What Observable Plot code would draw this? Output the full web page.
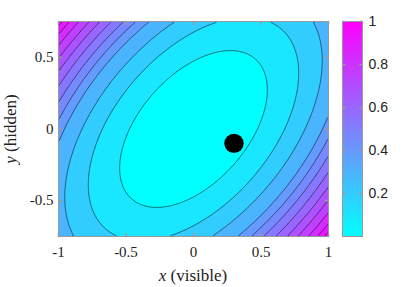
<!DOCTYPE html>
<html><head><meta charset="utf-8">
<script src="https://cdn.jsdelivr.net/npm/d3@7"></script>
<script src="https://cdn.jsdelivr.net/npm/@observablehq/plot@0.6"></script>
<style>
body{margin:0;background:#fff;}
#wrap{position:relative;width:415px;height:287px;overflow:hidden;background:#fff;}
#wrap svg{position:absolute;top:0;left:0;}
</style></head><body><div id="wrap"></div>
<script>
// ---- data ----
const xDomain = [-1, 1];
const yDomain = [-0.75, 0.75];
const xTicks = [-1, -0.5, 0, 0.5, 1];
const yTicks = [-0.5, 0, 0.5];
const quadCoeffs = [1, -1, 1];            // x², xy, y² of the plotted field
const levels = [0.097, 0.197, 0.295, 0.395, 0.46, 0.527, 0.60, 0.675, 0.75, 0.83, 0.905, 0.965];
const markerX = [0.3];
const markerY = [-0.1];
const cbDomain = [0, 1];
const cbTicks = [0.2, 0.4, 0.6, 0.8, 1];
const cbColors = ["#00ffff", "#ff00ff"];   // MATLAB "cool"
const xLabel = ["x", " (visible)"];
const yLabel = ["y", " (hidden)"];

// ---- field ----
const qAt = (x, y) => quadCoeffs[0]*x*x + quadCoeffs[1]*x*y + quadCoeffs[2]*y*y;
const qMax = d3.max(xDomain.flatMap(x => yDomain.map(y => qAt(x, y))));
const field = (x, y) => qAt(x, y) / qMax;

const frameColor = "#9a9a9a";
const textColor = "#222";
const serif = "'Liberation Serif', serif";
const sans = "'Liberation Sans', Arial, sans-serif";
const tickShape = {draw(context, l) { context.moveTo(0, 0); context.lineTo(0, -l); }};
const colorScale = {type: "linear", domain: cbDomain, range: cbColors, interpolate: "rgb"};
const bounds = {x1: xDomain[0], x2: xDomain[1], y1: yDomain[0], y2: yDomain[1]};
const markers = markerX.map((x, i) => ({x, y: markerY[i]}));

const main = Plot.plot({
  width: 415, height: 287,
  marginLeft: 58, marginRight: 87, marginTop: 21, marginBottom: 51,
  x: {domain: xDomain},
  y: {domain: yDomain},
  color: colorScale,
  style: {fontFamily: serif, color: textColor, background: "transparent"},
  marks: [
    Plot.contour({...bounds, value: field, fill: "value", stroke: "none", thresholds: [0, ...levels]}),
    Plot.contour({...bounds, value: field, fill: "none", stroke: "#000", strokeWidth: 0.6, strokeOpacity: 0.85, thresholds: levels}),
    Plot.dot(markers, {x: "x", y: "y", r: 9.7, fill: "#000", stroke: "none"}),
    Plot.frame({stroke: frameColor}),
    Plot.vector(xTicks, {x: d => d, y: () => yDomain[0], rotate: 0, length: 3, anchor: "start", shape: tickShape, stroke: frameColor}),
    Plot.vector(xTicks, {x: d => d, y: () => yDomain[1], rotate: 180, length: 3, anchor: "start", shape: tickShape, stroke: frameColor}),
    Plot.vector(yTicks, {y: d => d, x: () => xDomain[0], rotate: 90, length: 3, anchor: "start", shape: tickShape, stroke: frameColor}),
    Plot.vector(yTicks, {y: d => d, x: () => xDomain[1], rotate: -90, length: 3, anchor: "start", shape: tickShape, stroke: frameColor}),
    Plot.axisX({ticks: xTicks, tickSize: 0, tickPadding: 10, fontSize: 15, label: null, tickFormat: d => String(d).replace("-", "-")}),
    Plot.axisY({ticks: yTicks, tickSize: 0, tickPadding: 5, fontSize: 15, label: null, tickFormat: d => String(d)})
  ]
});

const cb = Plot.plot({
  width: 415, height: 287,
  marginLeft: 342, marginRight: 53, marginTop: 21, marginBottom: 51,
  x: {domain: [0, 1], axis: null},
  y: {domain: cbDomain, axis: null},
  color: colorScale,
  style: {fontFamily: sans, color: textColor, background: "transparent"},
  marks: [
    Plot.raster({x1: 0, x2: 1, y1: cbDomain[0], y2: cbDomain[1], fill: (x, y) => y}),
    Plot.frame({stroke: frameColor}),
    Plot.vector(cbTicks, {y: d => d, x: () => 0, rotate: 90, length: 2.5, anchor: "start", shape: tickShape, stroke: frameColor}),
    Plot.vector(cbTicks, {y: d => d, x: () => 1, rotate: -90, length: 2.5, anchor: "start", shape: tickShape, stroke: frameColor}),
    Plot.axisY({anchor: "right", ticks: cbTicks, tickSize: 0, tickPadding: 6, fontSize: 14, label: null, tickFormat: d => String(d)})
  ]
});

const wrap = document.getElementById("wrap");
wrap.appendChild(main);
wrap.appendChild(cb);

// axis titles with italic variable names
const svg = d3.select(main);
const xt = svg.append("text").attr("x", 193).attr("y", 281).attr("text-anchor", "middle")
  .attr("font-family", serif).attr("font-size", 17).attr("fill", textColor);
xt.append("tspan").attr("font-style", "italic").text(xLabel[0]);
xt.append("tspan").text(xLabel[1]);
const yt = svg.append("text").attr("transform", "translate(16,129) rotate(-90)").attr("text-anchor", "middle")
  .attr("font-family", serif).attr("font-size", 17).attr("fill", textColor);
yt.append("tspan").attr("font-style", "italic").text(yLabel[0]);
yt.append("tspan").text(yLabel[1]);
</script></body></html>
